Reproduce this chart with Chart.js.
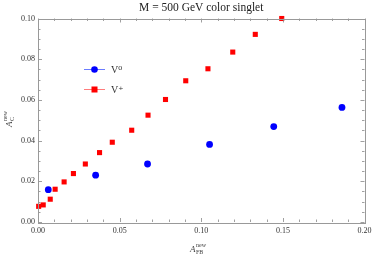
<!DOCTYPE html>
<html><head><meta charset="utf-8">
<script src="https://cdn.jsdelivr.net/npm/chart.js@4/dist/chart.umd.min.js"></script>
<style>html,body{margin:0;padding:0;background:#fff}#wrap{width:376px;height:255px}</style>
</head><body><div id="wrap"><canvas id="c" width="376" height="255"></canvas></div>
<script>
const titleText = "M = 500 GeV color singlet";
const seriesNames = ["V\u2070", "V\u207A"];
const v0X = [0.0063, 0.0353, 0.0671, 0.1051, 0.1444, 0.1862];
const v0Y = [0.0159, 0.0230, 0.0285, 0.0381, 0.0469, 0.0563];
const vpX = [0.0004, 0.0032, 0.0075, 0.0105, 0.0160, 0.0217, 0.0290, 0.0377, 0.0455, 0.0574, 0.0674, 0.0781, 0.0905, 0.1041, 0.1193, 0.1331, 0.1493];
const vpY = [0.0077, 0.0084, 0.0112, 0.0161, 0.0197, 0.0238, 0.0285, 0.0341, 0.0392, 0.0451, 0.0525, 0.0602, 0.0694, 0.0753, 0.0835, 0.0922, 0.1000];
const xTicks = [0, 0.05, 0.10, 0.15, 0.20];
const yTicks = [0, 0.02, 0.04, 0.06, 0.08, 0.10];

const SERIF = '"Liberation Serif", "DejaVu Serif", serif';
const BLUE = '#0000ff', RED = '#ff0000';

function pts(xs, ys){ return xs.map((x,i)=>({x:x, y:ys[i]})); }

const decor = {
  id: 'decor',
  afterDatasetsDraw(chart){
    const ctx = chart.ctx, ca = chart.chartArea;
    const xs = chart.scales.x, ys = chart.scales.y;
    ctx.save();
    ctx.strokeStyle = '#888';
    ctx.lineWidth = 0.8;
    ctx.beginPath();
    for (let i = 0; i <= 20; i++) {
      const v = i * 0.01;
      const px = Math.round(xs.getPixelForValue(v)) + 0.5;
      const len = (i % 5 === 0) ? 4 : 2.5;
      ctx.moveTo(px, ca.bottom); ctx.lineTo(px, ca.bottom - len);
      ctx.moveTo(px, ca.top); ctx.lineTo(px, ca.top + len);
    }
    for (let i = 0; i <= 20; i++) {
      const v = i * 0.005;
      const py = Math.round(ys.getPixelForValue(v)) + 0.5;
      const len = (i % 4 === 0) ? 4 : 2.5;
      ctx.moveTo(ca.left, py); ctx.lineTo(ca.left + len, py);
      ctx.moveTo(ca.right, py); ctx.lineTo(ca.right - len, py);
    }
    ctx.stroke();
    ctx.strokeStyle = '#999';
    ctx.lineWidth = 1;
    ctx.strokeRect(Math.round(ca.left)+0.5, Math.round(ca.top)+0.5, Math.round(ca.right-ca.left), Math.round(ca.bottom-ca.top));

    // title centred over plot area
    ctx.fillStyle = '#222';
    ctx.font = '11.5px ' + SERIF;
    ctx.textAlign = 'center';
    ctx.textBaseline = 'alphabetic';
    ctx.fillText(titleText, (ca.left + ca.right) / 2, 11);

    // axis labels
    ctx.fillStyle = '#444';
    ctx.textAlign = 'left';
    let cx = 190, cy = 252;
    ctx.font = 'italic 9px ' + SERIF;
    ctx.fillText('A', cx, cy);
    let w = ctx.measureText('A').width;
    ctx.font = '6px ' + SERIF;
    ctx.fillText('FB', cx + w + 0.5, cy + 2);
    ctx.fillText('new', cx + w + 0.5, cy - 5);
    ctx.save();
    ctx.translate(12, 127);
    ctx.rotate(-Math.PI/2);
    ctx.font = 'italic 9px ' + SERIF;
    ctx.fillText('A', 0, 0);
    w = ctx.measureText('A').width;
    ctx.font = '6px ' + SERIF;
    ctx.fillText('C', w + 0.5, 2);
    ctx.fillText('new', w + 0.5, -5);
    ctx.restore();

    // legend
    const ly = [69.5, 89.5];
    const cols = [BLUE, RED];
    const lcol = ['rgba(90,110,255,0.9)', 'rgba(255,110,110,0.9)'];
    for (let k = 0; k < 2; k++) {
      ctx.strokeStyle = lcol[k];
      ctx.lineWidth = 1;
      ctx.beginPath(); ctx.moveTo(84, ly[k]); ctx.lineTo(105, ly[k]); ctx.stroke();
      ctx.fillStyle = cols[k];
      if (k === 0) { ctx.beginPath(); ctx.arc(94.5, ly[k], 3.3, 0, Math.PI*2); ctx.fill(); }
      else { ctx.fillRect(91.5, ly[k]-3, 6, 6); }
      ctx.fillStyle = '#333';
      ctx.font = '10px ' + SERIF;
      ctx.textBaseline = 'middle';
      ctx.fillText(seriesNames[k], 111, ly[k] + 1);
    }
    ctx.restore();
  }
};

new Chart(document.getElementById('c'), {
  type: 'scatter',
  data: {
    datasets: [
      { label: seriesNames[0], data: pts(v0X, v0Y), pointStyle: 'circle', pointRadius: 3.4, backgroundColor: BLUE, borderColor: BLUE, borderWidth: 0, pointHoverRadius: 3.4 },
      { label: seriesNames[1], data: pts(vpX, vpY), pointStyle: 'rect', pointRadius: 3.6, backgroundColor: RED, borderColor: RED, borderWidth: 0, pointHoverRadius: 3.6 }
    ]
  },
  options: {
    responsive: false,
    animation: false,
    devicePixelRatio: 1,
    clip: false,
    layout: { padding: { left: 0, right: 9, top: 18.5, bottom: 0 } },
    plugins: {
      legend: { display: false },
      tooltip: { enabled: false },
      title: { display: false }
    },
    scales: {
      x: {
        type: 'linear', min: 0, max: 0.2,
        afterBuildTicks: s => { s.ticks = xTicks.map(v => ({ value: v })); },
        afterFit: s => { s.height = 33; },
        grid: { display: false, drawTicks: false },
        border: { display: false },
        ticks: { padding: 4.5, color: '#333', font: { family: SERIF, size: 8 }, callback: v => v.toFixed(2), maxRotation: 0 }
      },
      y: {
        type: 'linear', min: 0, max: 0.1,
        afterBuildTicks: s => { s.ticks = yTicks.map(v => ({ value: v })); },
        afterFit: s => { s.width = 38; },
        grid: { display: false, drawTicks: false },
        border: { display: false },
        ticks: { padding: 3, color: '#333', font: { family: SERIF, size: 8 }, callback: v => v.toFixed(2) }
      }
    }
  },
  plugins: [decor]
});
</script>
</body></html>
